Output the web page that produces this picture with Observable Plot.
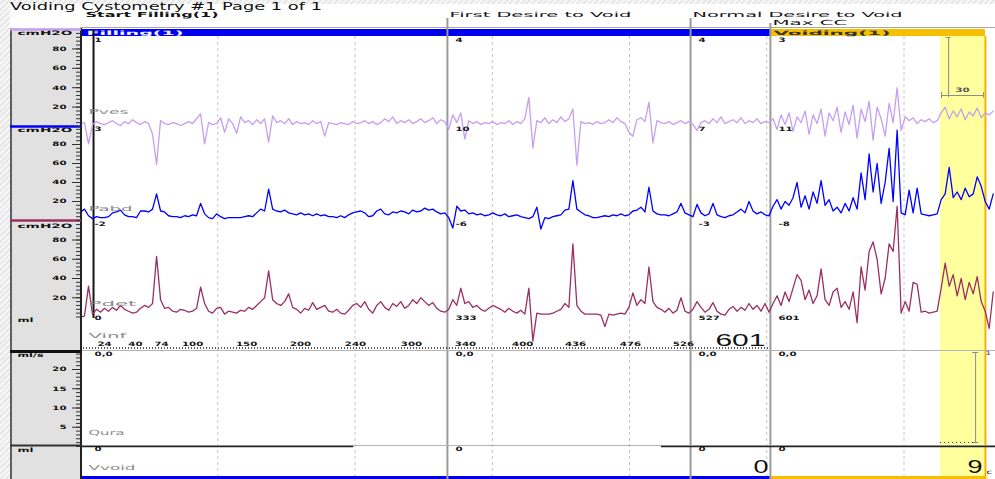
<!DOCTYPE html>
<html>
<head>
<meta charset="utf-8">
<script src="https://cdn.jsdelivr.net/npm/d3@7"></script>
<script src="https://cdn.jsdelivr.net/npm/@observablehq/plot@0.6"></script>
<style>
  html, body { margin: 0; padding: 0; }
  body { width: 995px; height: 479px; overflow: hidden; position: relative;
    background: repeating-linear-gradient(135deg, #f7f7f7 0px, #f7f7f7 2px, #e8e8e8 2px, #e8e8e8 4px); }
  #paper { position: absolute; left: 10px; top: 4px; width: 985px; height: 475px; background: #fff; }
  #panel { position: absolute; left: 10px; top: 28px; width: 70px; height: 451px; background: #e1e1e1; }
  #title { position: absolute; left: 10px; top: 1px; font: 10px "DejaVu Sans", sans-serif; color: #111; white-space: nowrap; transform-origin: 0 0; }
  #main { position: absolute; left: 80px; top: 0; }
  #left { position: absolute; left: 0; top: 0; }
</style>
</head>
<body>
<div id="paper"></div>
<div id="panel"></div>
<div id="title">Voiding Cystometry #1 Page 1 of 1</div>
<div id="main"></div>
<div id="left"></div>
<script>
// ================= DATA =================
const sampleStep = 1.75; // seconds between samples
const timeDomain = [0, 400];

// Pves (cmH2O)
const pvesValues = [
  3,4,-18,2,5,3,2,4,6,3, 1,5,3,7,4,2,5,3,-8,-39,
  6,3,2,4,3,1,3,5,3,8, 13,-18,4,2,3,9,-6,8,3,-7,
  10,4,6,2,7,3,8,-16,11,4, 6,3,8,2,5,3,4,2,6,3,
  5,-10,4,3,2,4,3,2,5,3, 4,6,3,5,2,4,8,5,10,3,
  6,4,7,3,5,8,4,6,9,3, 7,5,-3,12,4,14,-13,6,3,5,
  2,4,3,5,2,4,3,6,2,5, 3,8,30,-22,6,4,9,3,7,4,
  10,5,8,18,-40,5,3,4,2,5, 3,4,7,4,9,5,3,-6,-10,7,
  9,5,25,-17,6,4,3,5,2,4, 6,3,5,2,-4,4,6,3,8,4,
  10,3,5,7,4,9,3,6,4,8, 3,5,4,8,-3,12,2,14,-5,10,
  4,16,-8,12,3,18,-10,14,6,20, -6,15,2,22,-12,18,5,26,-14,20,
  8,-10,24,4,40,-4,10,6,9,3, 7,5,8,4,6,14,20,8,16,10,
  18,7,15,11,19,9,14,12,16
];
// Pabd (cmH2O)
const pabdValues = [
  9,12,5,2,4,3,3,4,8,9, 11,6,4,4,3,10,10,9,12,28,
  10,9,5,4,4,3,5,4,6,5, 18,7,3,2,7,4,2,3,3,3,
  3,4,5,4,8,12,10,33,12,10, 9,11,8,7,6,8,6,7,5,7,
  5,6,4,4,3,5,3,6,8,9, 10,8,4,5,10,12,7,6,9,8,
  10,9,7,11,9,10,13,11,12,9, 7,8,3,-8,15,10,11,7,8,6,
  7,5,6,8,6,5,7,4,5,6, 4,3,2,4,14,-9,3,2,4,5,
  6,11,12,42,12,9,6,5,3,3, 4,5,4,6,5,7,5,6,10,11,
  14,9,35,10,7,6,6,5,7,9, 18,8,6,4,17,8,5,7,18,6,
  4,3,5,6,9,12,8,20,10,7, 9,6,5,15,22,12,20,16,24,40,
  14,26,12,30,18,42,16,22,10,14, 8,18,10,24,12,50,22,70,30,60,
  18,40,76,20,95,8,6,32,8,34, 7,6,5,6,7,22,28,56,24,30,
  22,34,25,28,46,36,20,12,28
];
// Pdet (cmH2O)
const pdetValues = [
  0,1,32,3,8,5,9,6,10,7, 12,8,6,4,5,9,12,10,14,63,
  18,9,10,6,5,8,7,5,6,9, 31,14,6,4,9,10,3,6,5,4,
  7,6,10,8,12,16,20,48,18,14, 12,16,24,10,8,4,9,7,15,8,
  10,12,6,5,8,4,3,7,12,14, 10,16,8,4,12,16,10,7,14,11,
  16,9,12,18,14,20,16,12,15,9, 6,5,8,18,12,30,14,16,10,12,
  8,6,9,12,10,8,5,9,6,4, 7,3,30,-25,4,3,3,3,4,6,
  8,14,10,76,12,6,3,3,3,3, 2,-10,3,2,3,4,3,10,25,12,
  18,14,52,16,10,8,5,9,4,7, 20,6,4,8,16,10,5,8,15,6,
  3,2,8,11,6,10,7,14,8,12, 6,14,5,14,22,12,26,16,30,44,
  38,18,28,14,22,50,18,12,26,30, 10,16,8,26,-6,52,28,68,78,60,
  24,40,76,68,115,4,16,6,36,34, 5,6,4,5,6,30,56,32,44,22,
  40,18,36,24,42,16,6,-12,26
];
// Qura (ml/s): zero flow, with a gap in the recording
const quraTimes  = [0, 119, 119.5, 253.5, 254, 400];
const quraValues = [0, 0, null, null, 0, 0];

// events
const eventNames = ["Start Filling(1)", "First Desire to Void", "Normal Desire to Void", "Max CC"];
const eventTimes = [5.7, 160.4, 266.7, 301.6];
const pvesAtEvents  = ["1", "4", "4", "3"];
const pabdAtEvents  = ["3", "10", "7", "11"];
const pdetAtEvents  = ["-2", "-6", "-3", "-8"];
const vinfAtEvents  = ["0", "333", "527", "601"];
const quraAtEvents  = ["0,0", "0,0", "0,0", "0,0"];
const vvoidAtEvents = ["0", "0", "0", "0"];
const vvoidAtEnd = "9";

// phases
const phaseNames  = ["Filling(1)", "Voiding(1)"];
const phaseStarts = [0, 301.6];
const phaseEnds   = [301.6, 395.6];
const markedStart = 376, markedEnd = 395.6;
const markedPvesLabel = "30";
const markedFlowLabel = "1";

// time grid (s)
const gridTimes = [60, 120, 180, 240, 300, 360];

// infused volume axis (ml)
const vinfTickTimes  = [10.5, 24, 35.4, 49, 72.6, 96.2, 120.2, 144.7, 168.3, 193.3, 216.4, 240.4, 263.6];
const vinfTickLabels = ["24", "40", "74", "100", "150", "200", "240", "300", "340", "400", "436", "476", "526"];

// channel axes
const channelNames = ["Pves", "Pabd", "Pdet", "Vinf", "Qura", "Vvoid"];
const pressureTicks = [20, 40, 60, 80];
const flowTicks = [5, 10, 15, 20];
const unitLabels = ["cmH2O", "cmH2O", "cmH2O", "ml", "ml/s", "ml"];

// ================= LAYOUT =================
const W = 995, H = 479, PANEL = 80;
const pxPerSec = (W - PANEL) / (timeDomain[1] - timeDomain[0]);
const pvesY = d3.scaleLinear([0, 80], [126, 48.4]);
const pabdY = d3.scaleLinear([0, 80], [220, 144]);
const pdetY = d3.scaleLinear([0, 80], [316.5, 239.5]);
const flowY = d3.scaleLinear([0, 20], [446, 369]);
const channelNameY = [111, 208, 303, 335, 432, 467];
const unitLabelY = [33, 130, 226, 320, 355, 450];
const valueRowY = [40, 129, 224, 318, 354, 449];
const evLabelY = [14.5, 14.5, 14.5, 22];
const evLineTop = [30, 18, 18, 23];

const C = {pves: "#c69ff0", pabd: "#0000ff", pdet: "#9b2f62", fillBar: "#0000ee", voidBar: "#f6c000",
           marked: "#ffff9e", markedEdge: "#f5b400", grid: "#c4c4c4", event: "#9a9a9a", ink: "#151515", name: "#8c8c8c"};

const series = (vals) => vals.map((v, i) => ({t: i * sampleStep, v}));
const quraData = quraTimes.map((t, i) => ({t, v: quraValues[i]}));
const evX = (i, px) => eventTimes[i] + px / pxPerSec;

// ================= MAIN PLOT =================
const textStyle = {fontFamily: "DejaVu Sans, sans-serif", fontSize: "8px", background: "transparent", overflow: "visible"};
const valueRows = [pvesAtEvents, pabdAtEvents, pdetAtEvents, vinfAtEvents, quraAtEvents, vvoidAtEvents];
const bigFont = "Liberation Sans, sans-serif";

const main = Plot.plot({
  width: W - PANEL, height: H, margin: 0,
  x: {domain: timeDomain, range: [0, W - PANEL], axis: null},
  y: {domain: [0, H], range: [0, H], axis: null},
  style: textStyle,
  marks: [
    Plot.rect([0], {x1: markedStart, x2: markedEnd, y1: 36, y2: H, fill: C.marked}),
    Plot.ruleX(gridTimes, {y1: 36, y2: H, stroke: C.grid, strokeDasharray: "3,3"}),
    Plot.ruleY([27], {stroke: "#a8a8a8"}),
    // phase bars (top and bottom)
    Plot.rect([0], {x1: phaseStarts[0], x2: phaseEnds[0], y1: 29, y2: 36, fill: C.fillBar}),
    Plot.rect([0], {x1: phaseStarts[1], x2: phaseEnds[1], y1: 29, y2: 36, fill: C.voidBar}),
    Plot.rect([0], {x1: phaseStarts[0], x2: phaseEnds[0], y1: 476, y2: 479, fill: C.fillBar}),
    Plot.rect([0], {x1: phaseStarts[1], x2: phaseEnds[1], y1: 476, y2: 479, fill: C.voidBar}),
    Plot.text([phaseNames[0]], {x: phaseStarts[0], dx: 6, y: 32.5, textAnchor: "start", fill: "#f0f0ff", fontWeight: "bold", fontSize: 6}),
    Plot.text([phaseNames[1]], {x: phaseStarts[1], dx: 3, y: 32.5, textAnchor: "start", fill: "#333", fontWeight: "bold", fontSize: 6}),
    // event lines
    Plot.ruleX([eventTimes[0]], {y1: evLineTop[0], y2: 318, stroke: C.ink, strokeWidth: 2}),
    Plot.ruleX(eventTimes.slice(1), {y1: (d, i) => evLineTop[i + 1], y2: H, stroke: C.event, strokeWidth: 2}),
    Plot.ruleX([markedEnd], {y1: 36, y2: H, stroke: C.markedEdge, strokeWidth: 2}),
    // infused volume axis + separators
    Plot.ruleY([347.5], {x1: 0, x2: eventTimes[3], stroke: "#222", strokeDasharray: "1,2", strokeWidth: 1.3}),
    Plot.ruleY([350], {stroke: "#b4b4b4"}),
    Plot.ruleY([445], {stroke: "#b4b4b4"}),
    Plot.text(vinfTickLabels, {x: (d, i) => vinfTickTimes[i], y: 344, text: d => d, fontSize: 6, fontWeight: "bold", fill: C.ink}),
    // traces
    Plot.line(series(pvesValues), {x: "t", y: d => pvesY(d.v), stroke: C.pves, strokeWidth: 1.3}),
    Plot.line(series(pabdValues), {x: "t", y: d => pabdY(d.v), stroke: C.pabd, strokeWidth: 1.3}),
    Plot.line(series(pdetValues), {x: "t", y: d => pdetY(d.v), stroke: C.pdet, strokeWidth: 1.3}),
    Plot.line(quraData, {x: "t", y: d => d.v == null ? NaN : flowY(d.v), stroke: "#222", strokeWidth: 1.5}),
    // measurements in marked region
    Plot.ruleX([379.5], {y1: 37, y2: 97, stroke: "#8c8c8c"}),
    Plot.ruleY([37], {x1: 378.4, x2: 380.6, stroke: "#8c8c8c"}),
    Plot.ruleY([95], {x1: 376.4, x2: 394.8, stroke: "#8c8c8c"}),
    Plot.ruleX([376.4, 394.8], {y1: 92, y2: 98, stroke: "#8c8c8c"}),
    Plot.text([markedPvesLabel], {x: 385.6, y: 90, fontSize: 6, fontWeight: "bold", fill: "#555"}),
    Plot.ruleX([391.3], {y1: 352, y2: 442, stroke: "#8c8c8c"}),
    Plot.ruleY([352, 442], {x1: 390, x2: 392.6, stroke: "#8c8c8c"}),
    Plot.ruleY([442], {x1: 376, x2: 391, stroke: "#333", strokeDasharray: "1,3"}),
    Plot.text([markedFlowLabel], {x: 396.8, y: 353, fontSize: 6, fill: "#555"}),
    // event labels
    Plot.text([eventNames[0]], {x: eventTimes[0], dx: -8, y: evLabelY[0], textAnchor: "start", fontWeight: "bold", fontSize: 7, fill: C.ink}),
    Plot.text(eventNames.slice(1), {x: (d, i) => eventTimes[i + 1], dx: 2, y: (d, i) => evLabelY[i + 1], textAnchor: "start", fontSize: 7, fill: C.ink}),
    // values at events
    ...valueRows.map((row, r) => Plot.text(row, {x: (d, i) => evX(i, i ? 8 : 1), y: valueRowY[r], text: d => d, textAnchor: "start", fontSize: 6, fontWeight: "bold", fill: C.ink})),
    // big readouts
    Plot.text([vinfAtEvents[3]], {x: eventTimes[3], dx: -5, y: 340, textAnchor: "end", fontSize: 16, fontFamily: bigFont, fill: "#111"}),
    Plot.text([vvoidAtEvents[3]], {x: eventTimes[3], dx: -2, y: 467, textAnchor: "end", fontSize: 18, fontFamily: bigFont, fill: "#111"}),
    Plot.text([vvoidAtEnd], {x: markedEnd, dx: -3, y: 467, textAnchor: "end", fontSize: 18, fontFamily: bigFont, fill: "#111"}),
    Plot.text(["c"], {x: markedEnd, dx: 1, y: 472, textAnchor: "start", fontSize: 6, fill: "#111"}),
    // channel names
    Plot.text(channelNames, {x: 0, dx: 8, y: (d, i) => channelNameY[i], textAnchor: "start", fill: C.name, fontSize: 7})
  ]
});
document.getElementById("main").appendChild(main);

// ================= LEFT PANEL =================
const minorPressure = d3.range(0, 97, 4);
const minorFlow = d3.range(0, 25, 1);
const pressureScales = [pvesY, pabdY, pdetY];
const left = Plot.plot({
  width: PANEL + 2, height: H, margin: 0,
  x: {domain: [0, PANEL + 2], range: [0, PANEL + 2], axis: null},
  y: {domain: [0, H], range: [0, H], axis: null},
  style: textStyle,
  marks: [
    Plot.ruleX([10.5], {y1: 28, y2: H, stroke: "#333", strokeWidth: 1.5}),
    Plot.ruleX([80.5], {y1: 28, y2: H, stroke: "#222", strokeWidth: 2}),
    Plot.ruleY([29], {x1: 10, x2: 81, stroke: C.pves, strokeWidth: 2.5}),
    Plot.ruleY([126], {x1: 10, x2: 81, stroke: C.pabd, strokeWidth: 2.5}),
    Plot.ruleY([220], {x1: 10, x2: 81, stroke: C.pdet, strokeWidth: 2.5}),
    Plot.ruleY([351], {x1: 10, x2: 81, stroke: "#111", strokeWidth: 3}),
    Plot.ruleY([445], {x1: 10, x2: 81, stroke: "#333", strokeWidth: 2}),
    ...pressureScales.flatMap(sc => [
      Plot.ruleY(minorPressure, {y: d => sc(d), x1: 76, x2: 80, stroke: "#333"}),
      Plot.ruleY(pressureTicks, {y: d => sc(d), x1: 72, x2: 80, stroke: "#333"}),
      Plot.text(pressureTicks, {x: 66, y: d => sc(d), text: d => String(d), textAnchor: "end", fontWeight: "bold", fontSize: 6, fill: "#111"})
    ]),
    Plot.ruleY(minorFlow, {y: d => flowY(d), x1: 76, x2: 80, stroke: "#333"}),
    Plot.ruleY(flowTicks, {y: d => flowY(d), x1: 72, x2: 80, stroke: "#333"}),
    Plot.text(flowTicks, {x: 66, y: d => flowY(d), text: d => String(d), textAnchor: "end", fontWeight: "bold", fontSize: 6, fill: "#111"}),
    Plot.text(unitLabels, {x: 17, y: (d, i) => unitLabelY[i], textAnchor: "start", fontWeight: "bold", fontSize: 6, fill: "#111"})
  ]
});
document.getElementById("left").appendChild(left);

// ================= pixel-font widening =================
const targetWidths = {
  "Start Filling(1)": 133, "First Desire to Void": 182, "Normal Desire to Void": 210, "Max CC": 75,
  "Filling(1)": 97, "Voiding(1)": 117,
  "Pves": 40, "Pabd": 44, "Pdet": 48, "Vinf": 38, "Qura": 36, "Vvoid": 47,
  "cmH2O": 55, "ml": 16, "ml/s": 26
};
const bigWidths = {"601": 50};
for (const svg of [main, left]) {
  svg.querySelectorAll("text").forEach(t => {
    const fs = parseFloat(getComputedStyle(t).fontSize);
    const s = t.textContent;
    let w;
    if (fs > 12) w = bigWidths[s] ?? t.getComputedTextLength() * 1.5;
    else w = targetWidths[s] ?? t.getComputedTextLength() * 1.7;
    t.setAttribute("textLength", w);
    t.setAttribute("lengthAdjust", "spacingAndGlyphs");
  });
}
const title = document.getElementById("title");
title.style.transform = `scaleX(${312 / title.getBoundingClientRect().width})`;
</script>
</body>
</html>
